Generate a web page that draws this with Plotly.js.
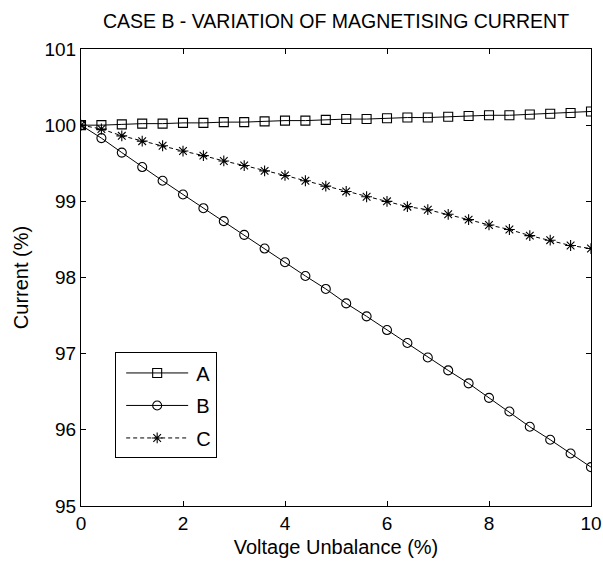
<!DOCTYPE html>
<html>
<head>
<meta charset="utf-8">
<script src="https://cdn.plot.ly/plotly-3.0.1.min.js"></script>
<style>
  html, body { margin: 0; padding: 0; background: #fff; }
  #chart { width: 603px; height: 568px; }
</style>
</head>
<body>
<div id="chart"></div>
<script>
// Voltage unbalance steps (%)
const unbalance = [0, 0.4, 0.8, 1.2, 1.6, 2.0, 2.4, 2.8, 3.2, 3.6, 4.0, 4.4, 4.8,
                   5.2, 5.6, 6.0, 6.4, 6.8, 7.2, 7.6, 8.0, 8.4, 8.8, 9.2, 9.6, 10];

// Magnetising current (%) per phase
const currentA = [100.00, 100.00, 100.01, 100.02, 100.02, 100.03, 100.03, 100.04, 100.04,
                  100.05, 100.06, 100.06, 100.07, 100.08, 100.08, 100.09, 100.10, 100.10,
                  100.11, 100.12, 100.13, 100.13, 100.14, 100.15, 100.16, 100.18];
const currentB = [100.00, 99.83, 99.64, 99.45, 99.27, 99.09, 98.91, 98.74, 98.56,
                  98.38, 98.20, 98.02, 97.85, 97.66, 97.49, 97.31, 97.14, 96.95,
                  96.78, 96.61, 96.42, 96.24, 96.04, 95.87, 95.69, 95.51];
const currentC = [100.00, 99.95, 99.86, 99.79, 99.73, 99.66, 99.60, 99.53, 99.47,
                  99.40, 99.34, 99.27, 99.20, 99.13, 99.06, 99.00, 98.93, 98.89,
                  98.83, 98.76, 98.69, 98.63, 98.55, 98.49, 98.42, 98.38];

const seriesNames = ['A', 'B', 'C'];

const FONT = '"Liberation Sans", Arial, sans-serif';
const INK = '#000';

function series(name, y, symbol, dash) {
  return {
    x: unbalance, y: y, name: name, legendgroup: name,
    type: 'scatter', mode: 'lines+markers',
    line: { color: INK, width: 1, dash: dash },
    marker: { symbol: symbol, size: 9, color: INK, line: { color: INK, width: 1.1 } }
  };
}

const traces = [
  series(seriesNames[0], currentA, 'square-open', 'solid'),
  series(seriesNames[1], currentB, 'circle-open', 'solid'),
  series(seriesNames[2], currentC, 'asterisk-open', '4px,3px')
];

const axisCommon = {
  showgrid: false, zeroline: false,
  showline: true, linecolor: INK, linewidth: 1, mirror: 'ticks',
  ticks: 'inside', ticklen: 5, tickcolor: INK, tickwidth: 1,
  ticklabeloverflow: 'allow',
  tickfont: { family: FONT, size: 19, color: INK }
};

const layout = {
  width: 603, height: 568,
  margin: { l: 81, r: 12, t: 49, b: 62 },
  paper_bgcolor: '#fff', plot_bgcolor: '#fff',
  font: { family: FONT, color: INK },
  title: {
    text: 'CASE B - VARIATION OF MAGNETISING CURRENT',
    font: { family: FONT, size: 19.5, color: INK },
    x: 0.5, xref: 'paper', y: 0.963, yanchor: 'middle'
  },
  xaxis: Object.assign({}, axisCommon, {
    range: [0, 10], dtick: 2, tick0: 0,
    title: { text: 'Voltage Unbalance (%)', font: { family: FONT, size: 20, color: INK }, standoff: 7 }
  }),
  yaxis: Object.assign({}, axisCommon, {
    range: [95, 101], dtick: 1, tick0: 95,
    title: { text: 'Current (%)', font: { family: FONT, size: 20, color: INK }, standoff: 10 }
  }),
  showlegend: true,
  legend: {
    x: 0.067, y: 0.336, xanchor: 'left', yanchor: 'top',
    bgcolor: '#fff', bordercolor: INK, borderwidth: 1,
    font: { family: FONT, size: 20, color: INK },
    tracegroupgap: 3.5, itemwidth: 70
  }
};

// Longer legend sample lines, with the marker centred on each line
function widenLegendSamples(gd) {
  gd.querySelectorAll('.legend .traces').forEach(function (item) {
    item.querySelectorAll('.legendlines path').forEach(function (p) {
      p.setAttribute('d', 'M10,0h62');
    });
    item.querySelectorAll('.legendpoints path.scatterpts').forEach(function (p) {
      p.setAttribute('transform', 'translate(41,0)');
    });
  });
}

Plotly.newPlot('chart', traces, layout, { displayModeBar: false, staticPlot: true })
  .then(widenLegendSamples);
</script>
</body>
</html>
